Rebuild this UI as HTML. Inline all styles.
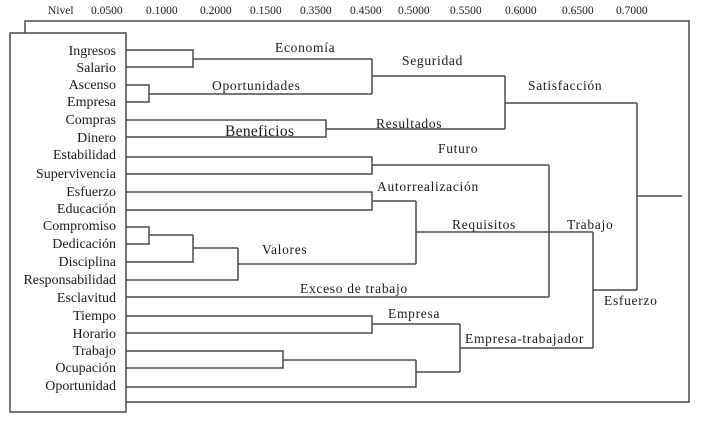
<!DOCTYPE html>
<html><head><meta charset="utf-8"><style>
html,body{margin:0;padding:0;background:#fff;}
svg{display:block;}
text{font-family:"Liberation Serif",serif;fill:#1a1a1a;}
</style></head><body>
<svg width="702" height="422" viewBox="0 0 702 422" xmlns="http://www.w3.org/2000/svg">
<g font-size="11.5">
<text x="48" y="14">Nivel</text>
<text x="91" y="14">0.0500</text>
<text x="146" y="14">0.1000</text>
<text x="200" y="14">0.2000</text>
<text x="250" y="14">0.1500</text>
<text x="300" y="14">0.3500</text>
<text x="350" y="14">0.4500</text>
<text x="398" y="14">0.5000</text>
<text x="450" y="14">0.5500</text>
<text x="505" y="14">0.6000</text>
<text x="562" y="14">0.6500</text>
<text x="616" y="14">0.7000</text>
</g>
<g fill="none" stroke="#4a4a4a" stroke-width="1.5">
<polyline points="25,33 25,21 689,21 689,402 126,402"/>
<rect x="10" y="33" width="116" height="379"/>
<polyline points="126,50 193,50 193,67 126,67"/>
<line x1="193" y1="59" x2="372" y2="59"/>
<polyline points="126,85 149,85 149,102 126,102"/>
<line x1="149" y1="94" x2="372" y2="94"/>
<line x1="372" y1="59" x2="372" y2="94"/>
<line x1="372" y1="76" x2="505" y2="76"/>
<polyline points="126,120 326,120 326,137 126,137"/>
<line x1="326" y1="129" x2="505" y2="129"/>
<line x1="505" y1="76" x2="505" y2="129"/>
<line x1="505" y1="103" x2="637" y2="103"/>
<line x1="637" y1="103" x2="637" y2="290"/>
<line x1="637" y1="196" x2="682" y2="196"/>
<polyline points="126,157 372,157 372,174 126,174"/>
<line x1="372" y1="165" x2="549" y2="165"/>
<polyline points="126,192 372,192 372,210 126,210"/>
<line x1="372" y1="201" x2="416" y2="201"/>
<polyline points="126,227 149,227 149,244 126,244"/>
<line x1="149" y1="235" x2="193" y2="235"/>
<polyline points="193,235 193,262 126,262"/>
<line x1="193" y1="248" x2="238" y2="248"/>
<polyline points="238,248 238,280 126,280"/>
<line x1="238" y1="264" x2="416" y2="264"/>
<line x1="416" y1="201" x2="416" y2="264"/>
<line x1="416" y1="232" x2="593" y2="232"/>
<line x1="549" y1="165" x2="549" y2="297"/>
<line x1="126" y1="297" x2="549" y2="297"/>
<line x1="593" y1="232" x2="593" y2="348"/>
<line x1="593" y1="290" x2="637" y2="290"/>
<polyline points="126,316 372,316 372,333 126,333"/>
<line x1="372" y1="324" x2="460" y2="324"/>
<polyline points="126,351 283,351 283,368 126,368"/>
<line x1="283" y1="360" x2="416" y2="360"/>
<polyline points="416,360 416,387 126,387"/>
<line x1="416" y1="372" x2="460" y2="372"/>
<line x1="460" y1="324" x2="460" y2="372"/>
<line x1="460" y1="348" x2="593" y2="348"/>
</g>
<g font-size="14" text-anchor="end">
<text x="116" y="55">Ingresos</text>
<text x="116" y="72">Salario</text>
<text x="116" y="89">Ascenso</text>
<text x="116" y="106">Empresa</text>
<text x="116" y="124">Compras</text>
<text x="116" y="142">Dinero</text>
<text x="116" y="159">Estabilidad</text>
<text x="116" y="178">Supervivencia</text>
<text x="116" y="196">Esfuerzo</text>
<text x="116" y="213">Educación</text>
<text x="116" y="230">Compromiso</text>
<text x="116" y="248">Dedicación</text>
<text x="116" y="266">Disciplina</text>
<text x="116" y="284">Responsabilidad</text>
<text x="116" y="302">Esclavitud</text>
<text x="116" y="320">Tiempo</text>
<text x="116" y="338">Horario</text>
<text x="116" y="355">Trabajo</text>
<text x="116" y="372">Ocupación</text>
<text x="116" y="390">Oportunidad</text>
</g>
<g font-size="13.5" letter-spacing="0.7">
<text x="275" y="52">Economía</text>
<text x="402" y="65">Seguridad</text>
<text x="212" y="90">Oportunidades</text>
<text x="225" y="136" font-size="15.5" letter-spacing="0.3">Beneficios</text>
<text x="376" y="128">Resultados</text>
<text x="528" y="90">Satisfacción</text>
<text x="438" y="153">Futuro</text>
<text x="377" y="191">Autorrealización</text>
<text x="452" y="229">Requisitos</text>
<text x="567" y="229">Trabajo</text>
<text x="262" y="254">Valores</text>
<text x="300" y="293">Exceso de trabajo</text>
<text x="604" y="305">Esfuerzo</text>
<text x="388" y="318">Empresa</text>
<text x="465" y="343">Empresa-trabajador</text>
</g>
</svg>
</body></html>
